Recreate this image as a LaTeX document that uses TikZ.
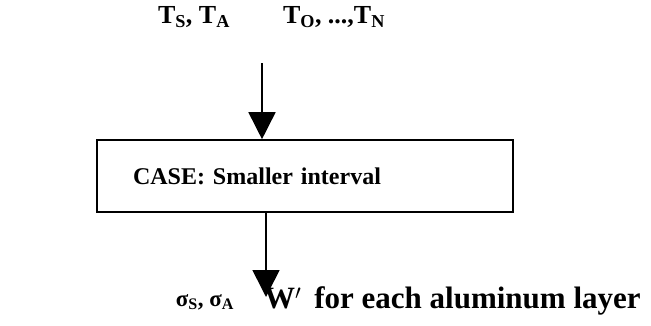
\documentclass[tikz,border=0pt]{standalone}
\usepackage{fontspec}
\setmainfont{Liberation Serif}
\usetikzlibrary{arrows.meta}
\begin{document}
\begin{tikzpicture}[x=1pt, y=1pt, font=\bfseries\fontsize{24}{28}\selectfont,
        lbl/.style={inner sep=0pt},
        box/.style={draw, line width=1.6pt, minimum width=416pt, minimum height=72pt,
            text width=344pt, inner xsep=36pt, align=left},
        flow/.style={line width=1.6pt, -{Triangle[width=27pt, length=27pt]}}]
        \useasboundingbox (0,0) rectangle (651,325);
        % Eingaben oben
        \node[lbl, font=\bfseries\fontsize{26}{30}\selectfont] (tsa) at (194,308) {T\textsubscript{S}, T\textsubscript{A}};
        \node[lbl, font=\bfseries\fontsize{26}{30}\selectfont] (tn)  at (334,308) {T\textsubscript{O}, ...,T\textsubscript{N}};
        \coordinate (in) at (262,262);
        % Kasten
        \node[box] (case) at (305,149) {CASE: Smaller interval};
        % Ausgaben unten
        \coordinate (out) at (266,28);
        \node[lbl, font=\bfseries\fontsize{23}{26}\selectfont] (sig) at (205,23) {σ\textsubscript{S}, σ\textsubscript{A}};
        \node[lbl, anchor=west, font=\bfseries\fontsize{31}{35}\selectfont] (w) at (264,24) {W$'$\, for each aluminum layer};
        % Pfeile
        \draw[flow] (in) -- (in |- case.north);
        \draw[flow] (out |- case.south) -- (out);
    \end{tikzpicture}
\end{document}
